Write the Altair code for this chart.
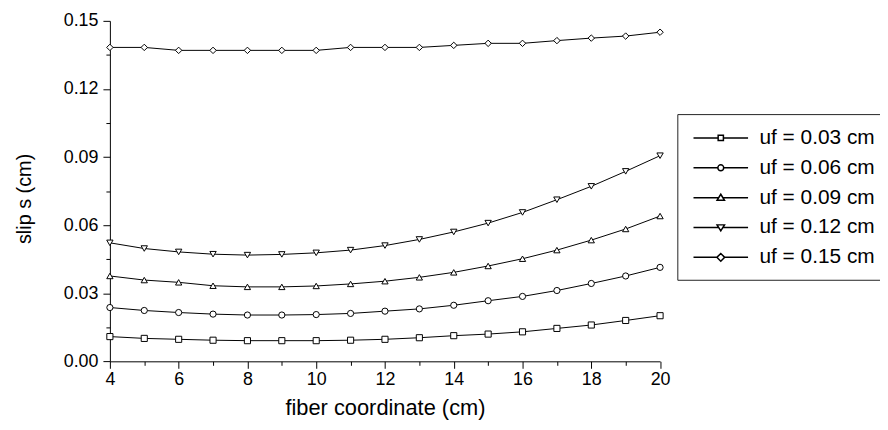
import altair as alt
import pandas as pd

x_vals = list(range(4, 21))
series_names = ["uf = 0.03 cm", "uf = 0.06 cm", "uf = 0.09 cm", "uf = 0.12 cm", "uf = 0.15 cm"]
s003 = [0.0109, 0.0101, 0.0097, 0.0093, 0.0091, 0.0091, 0.0091, 0.0093, 0.0097,
        0.0104, 0.0113, 0.0120, 0.0130, 0.0145, 0.0160, 0.0180, 0.0201]
s006 = [0.0237, 0.0224, 0.0215, 0.0208, 0.0204, 0.0204, 0.0206, 0.0211, 0.0221,
        0.0231, 0.0247, 0.0267, 0.0286, 0.0312, 0.0343, 0.0376, 0.0414]
s009 = [0.0376, 0.0358, 0.0348, 0.0333, 0.0328, 0.0328, 0.0332, 0.0341, 0.0353,
        0.0370, 0.0392, 0.0420, 0.0452, 0.0490, 0.0534, 0.0583, 0.0640]
s012 = [0.0522, 0.0497, 0.0482, 0.0472, 0.0468, 0.0471, 0.0478, 0.0490, 0.0510,
        0.0537, 0.0570, 0.0609, 0.0656, 0.0712, 0.0771, 0.0837, 0.0906]
s015 = [0.1383, 0.1383, 0.1370, 0.1370, 0.1370, 0.1370, 0.1370, 0.1383, 0.1383,
        0.1383, 0.1392, 0.1401, 0.1401, 0.1413, 0.1424, 0.1433, 0.1450]
all_series = [s003, s006, s009, s012, s015]

x_ticks = list(range(4, 21))
y_ticks = [round(i * 0.015, 3) for i in range(11)]

marker_shapes = ["square", "circle", "triangle-up", "triangle-down", "diamond"]
marker_sizes = [38, 42, 72, 72, 64]

# legend symbols: a line segment with a small marker in the middle
# (symbol units: 1 unit = 11 px for symbolSize 484)
legend_paths = [
    "M-2.5,0H-0.24M0.24,0H2.5M-0.24,-0.24H0.24V0.24H-0.24Z",
    "M-2.5,0H-0.27M0.27,0H2.5M0.27,0A0.27,0.27,0,1,1,-0.27,0A0.27,0.27,0,1,1,0.27,0Z",
    "M-2.5,0H-0.18M0.18,0H2.5M0,-0.31L0.34,0.24L-0.34,0.24Z",
    "M-2.5,0H-0.18M0.18,0H2.5M0,0.31L0.34,-0.24L-0.34,-0.24Z",
    "M-2.5,0H-0.36M0.36,0H2.5M0,-0.36L0.36,0L0,0.36L-0.36,0Z",
]

rows = []
for name, vals in zip(series_names, all_series):
    for xv, yv in zip(x_vals, vals):
        rows.append({"x": xv, "s": yv, "series": name})
df = pd.DataFrame(rows)

tick_font = "Liberation Sans, Arial, Helvetica, sans-serif"
text_font = "Liberation Sans, Arial, Helvetica, sans-serif"

x_enc = alt.X(
    "x:Q",
    scale=alt.Scale(domain=[4, 20], nice=False, zero=False),
    axis=alt.Axis(
        values=x_ticks,
        labelExpr="datum.value % 2 ? '' : datum.label",
        tickSize={"condition": {"test": "datum.value % 2", "value": 4}, "value": 7},
        labelFont=tick_font, labelFontSize=18, labelPadding=2,
        labelOverlap=False, labelFlush=False,
        titleFont=text_font, titleFontSize=22, titleFontWeight="normal",
        titleY=54, titleBaseline="alphabetic",
    ),
    title="fiber coordinate (cm)",
)
y_enc = alt.Y(
    "s:Q",
    scale=alt.Scale(domain=[0, 0.15], nice=False, zero=False),
    axis=alt.Axis(
        values=y_ticks,
        labelExpr="round(datum.value*1000) % 30 ? '' : format(datum.value, '.2f')",
        tickSize={"condition": {"test": "round(datum.value*1000) % 30", "value": 4}, "value": 7},
        labelFont=tick_font, labelFontSize=18, labelPadding=5,
        labelOverlap=False, labelFlush=False,
        titleFont=text_font, titleFontSize=20, titleFontWeight="normal",
        titleX=-80, titleY=179, titleBaseline="alphabetic", titleAngle=270,
    ),
    title="slip s (cm)",
)

lines = alt.Chart(df).mark_line(color="black", strokeWidth=1).encode(
    x=x_enc, y=y_enc, detail="series:N"
)

points = alt.Chart(df).mark_point(
    filled=True, fill="white", stroke="black", strokeWidth=1, opacity=1
).encode(
    x=x_enc, y=y_enc,
    shape=alt.Shape("series:N", scale=alt.Scale(domain=series_names, range=marker_shapes), legend=None),
    size=alt.Size("series:N", scale=alt.Scale(domain=series_names, range=marker_sizes), legend=None),
)

legend_layer = alt.Chart(df).transform_filter("false").mark_point(
    filled=True, fill="white", stroke="black", strokeWidth=1, opacity=1
).encode(
    x=x_enc, y=y_enc,
    shape=alt.Shape(
        "series:N",
        scale=alt.Scale(domain=series_names, range=legend_paths),
        legend=alt.Legend(
            title=None, orient="none", legendX=572, legendY=94,
            symbolSize=484, symbolOffset=19.8,
            labelFont=text_font, labelFontSize=21, labelColor="black",
            labelOffset=27, labelLimit=400, rowPadding=8.1, padding=12,
            strokeColor="#222222",
        ),
    ),
)

chart = alt.layer(lines, points, legend_layer).resolve_scale(
    shape="independent", size="independent"
).properties(
    width=554.6, height=343.2,
    autosize=alt.AutoSizeParams(type="none"),
    padding={"left": 102.7, "top": 11.3, "right": 221.7, "bottom": 59.5},
    background="white",
).configure_view(stroke=None).configure_axis(
    grid=False, domainColor="black", domainWidth=1, tickColor="black", tickWidth=1,
    labelColor="black", titleColor="black",
)

chart.save("out.html", embed_options={"renderer": "svg", "actions": False})
